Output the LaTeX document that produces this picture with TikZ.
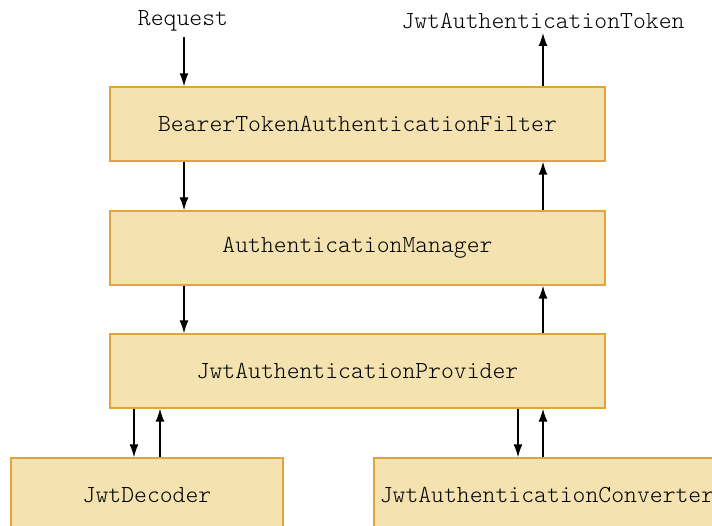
\documentclass[tikz,border=0pt]{standalone}
\usepackage{fontspec}
\newfontfamily\lightmono{Latin Modern Mono Light}
\usetikzlibrary{arrows.meta}
\definecolor{boxfill}{RGB}{244,227,177}
\definecolor{boxline}{RGB}{224,164,60}
\tikzset{
  comp/.style={draw=boxline, fill=boxfill, line width=1.4pt, minimum height=74pt, inner sep=0pt, font=\lightmono\fontsize{24.5}{28}\selectfont},
  lbl/.style={inner sep=0pt, font=\lightmono\fontsize{24.5}{28}\selectfont},
  arr/.style={line width=1.4pt, -{Latex[length=13pt,width=9pt]}}
}
\begin{document}
\begin{tikzpicture}[x=1pt,y=-1pt]
\useasboundingbox (0,0) rectangle (712,526);
\clip (0,0) rectangle (712,526);
\node[comp, minimum width=495pt] (filter) at (357.5,124) {BearerTokenAuthenticationFilter};
\node[comp, minimum width=495pt] (manager) at (357.5,248) {AuthenticationManager};
\node[comp, minimum width=495pt] (provider) at (357.5,371) {JwtAuthenticationProvider};
\node[comp, minimum width=272pt] (decoder) at (147,495) {JwtDecoder};
\node[comp, minimum width=346pt] (converter) at (547,495) {JwtAuthenticationConverter};
\node[lbl] (request) at (183,21) {Request};
\node[lbl] (token) at (543,21) {JwtAuthenticationToken};
\coordinate (cL) at (184,0);
\coordinate (cR) at (543,0);
\coordinate (dD) at (134,0);
\coordinate (dU) at (160,0);
\coordinate (vD) at (518,0);
\coordinate (vU) at (543,0);
\draw[arr, shorten <=6pt] (request.south -| cL) -- (filter.north -| cL);
\draw[arr] (filter.south -| cL) -- (manager.north -| cL);
\draw[arr] (manager.south -| cL) -- (provider.north -| cL);
\draw[arr] (provider.south -| dD) -- (decoder.north -| dD);
\draw[arr] (decoder.north -| dU) -- (provider.south -| dU);
\draw[arr] (provider.south -| vD) -- (converter.north -| vD);
\draw[arr] (converter.north -| vU) -- (provider.south -| vU);
\draw[arr] (provider.north -| cR) -- (manager.south -| cR);
\draw[arr] (manager.north -| cR) -- (filter.south -| cR);
\draw[arr, shorten >=4pt] (filter.north -| cR) -- (token.south -| cR);
\end{tikzpicture}
\end{document}
